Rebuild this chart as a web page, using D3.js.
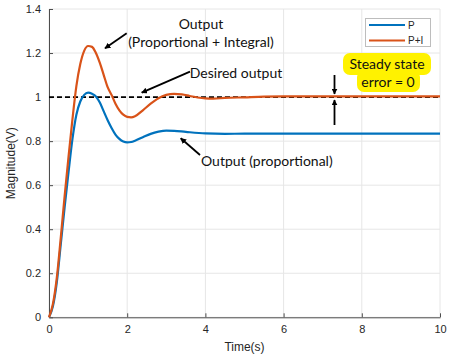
<!DOCTYPE html>
<html>
<head>
<meta charset="utf-8">
<script src="https://cdn.jsdelivr.net/npm/d3@7"></script>
<style>
html,body{margin:0;padding:0;background:#fff;}
svg{display:block;}
</style>
</head>
<body>
<svg id="chart" width="450" height="355"></svg>
<script>
// ---- data ----
const timeP = [0,0.1,0.2,0.3,0.4,0.5,0.6,0.7,0.8,0.9,1.0,1.1,1.2,1.3,1.4,1.5,1.6,1.7,1.8,1.9,2.0,2.1,2.2,2.4,2.6,2.8,3.0,3.2,3.5,4.0,4.5,5,6,7,8,9,10];
const valuesP = [0,0.05,0.16,0.33,0.50,0.66,0.81,0.92,0.98,1.01,1.02,1.015,1.003,0.975,0.935,0.895,0.86,0.83,0.81,0.798,0.794,0.796,0.802,0.818,0.833,0.843,0.848,0.847,0.842,0.835,0.833,0.834,0.834,0.834,0.834,0.834,0.834];
const timePI = [0,0.1,0.2,0.3,0.4,0.5,0.6,0.7,0.8,0.9,1.0,1.1,1.2,1.3,1.4,1.5,1.6,1.7,1.8,1.9,2.0,2.1,2.2,2.4,2.6,2.8,3.0,3.2,3.4,3.6,3.8,4.0,4.2,4.5,5.0,5.5,6,7,8,9,10];
const valuesPI = [0,0.06,0.18,0.36,0.55,0.73,0.90,1.05,1.15,1.21,1.232,1.228,1.2,1.155,1.10,1.045,1.01,0.97,0.94,0.92,0.91,0.908,0.913,0.94,0.97,0.995,1.01,1.015,1.012,1.005,0.998,0.994,0.993,0.996,0.999,1.002,1.003,1.003,1.003,1.003,1.003];
const desiredOutput = 1.0;
const xTicks = [0,2,4,6,8,10];
const yTicks = [0,0.2,0.4,0.6,0.8,1,1.2,1.4];
const seriesNames = ["P","P+I"];
const xLabel = "Time(s)";
const yLabel = "Magnitude(V)";

// ---- layout ----
const svg = d3.select("#chart");
const m = {left:49, right:440, top:9, bottom:317.3};
const x = d3.scaleLinear().domain([0,10]).range([m.left, m.right]);
const y = d3.scaleLinear().domain([0,1.4]).range([m.bottom, m.top]);
const colors = {"P":"#0072BD","P+I":"#D95319"};
const axisFont = "'Liberation Sans', Arial, sans-serif";
const annoFont = "Lato, 'Open Sans', sans-serif";

// grid
const grid = svg.append("g");
grid.selectAll("line.gx").data(xTicks).enter().append("line")
  .attr("x1", d=>x(d)).attr("x2", d=>x(d)).attr("y1", m.top).attr("y2", m.bottom)
  .attr("stroke","#e6e6e6").attr("stroke-width",1);
grid.selectAll("line.gy").data(yTicks).enter().append("line")
  .attr("x1", m.left).attr("x2", m.right).attr("y1", d=>y(d)).attr("y2", d=>y(d))
  .attr("stroke","#e6e6e6").attr("stroke-width",1);

// axes
const xAxis = d3.axisBottom(x).tickValues(xTicks).tickSizeInner(-4).tickSizeOuter(0).tickPadding(8).tickFormat(d3.format("~g"));
const yAxis = d3.axisLeft(y).tickValues(yTicks).tickSizeInner(-4).tickSizeOuter(0).tickPadding(8).tickFormat(d3.format("~g"));
const gx = svg.append("g").attr("transform",`translate(0,${m.bottom})`).call(xAxis);
const gy = svg.append("g").attr("transform",`translate(${m.left},0)`).call(yAxis);
[gx,gy].forEach(g=>{
  g.select(".domain").attr("stroke","#4d4d4d").attr("stroke-width",1);
  g.selectAll(".tick line").attr("stroke","#4d4d4d");
  g.selectAll(".tick text").attr("fill","#262626").style("font-family",axisFont).style("font-size","11px");
});
svg.append("text").attr("x",(m.left+m.right)/2).attr("y",351).attr("text-anchor","middle")
  .style("font-family",axisFont).style("font-size","12px").attr("fill","#262626").text(xLabel);
svg.append("text").attr("transform",`translate(15,${(m.top+m.bottom)/2}) rotate(-90)`).attr("text-anchor","middle")
  .style("font-family",axisFont).style("font-size","12px").attr("fill","#262626").text(yLabel);

// desired dashed line
svg.append("line").attr("x1",x(0)).attr("x2",x(10)).attr("y1",y(desiredOutput)).attr("y2",y(desiredOutput))
  .attr("stroke","#000").attr("stroke-width",1.6).attr("stroke-dasharray","5,3");

// series
const line = d3.line().x(d=>x(d[0])).y(d=>y(d[1])).curve(d3.curveMonotoneX);
const series = [
  {name:"P", pts: timeP.map((t,i)=>[t,valuesP[i]])},
  {name:"P+I", pts: timePI.map((t,i)=>[t,valuesPI[i]])}
];
series.forEach(s=>{
  svg.append("path").datum(s.pts).attr("d",line).attr("fill","none")
    .attr("stroke",colors[s.name]).attr("stroke-width",2.2).attr("stroke-linejoin","round");
});

// legend
const lg = svg.append("g");
lg.append("rect").attr("x",365.5).attr("y",18.5).attr("width",65).attr("height",28)
  .attr("fill","#fff").attr("stroke","#bdbdbd").attr("stroke-width",1);
seriesNames.forEach((n,i)=>{
  const yy = 25 + i*15.5;
  lg.append("line").attr("x1",369).attr("x2",405).attr("y1",yy).attr("y2",yy)
    .attr("stroke",colors[n]).attr("stroke-width",2.2);
  lg.append("text").attr("x",408).attr("y",yy+3.5).style("font-family",axisFont).style("font-size","10px")
    .attr("fill","#262626").text(n);
});

// arrow marker
const defs = svg.append("defs");
defs.append("marker").attr("id","ah").attr("viewBox","0 0 10 10").attr("refX",9).attr("refY",5)
  .attr("markerWidth",6).attr("markerHeight",6).attr("markerUnits","userSpaceOnUse").attr("orient","auto")
  .append("path").attr("d","M0,0 L10,5 L0,10 z").attr("fill","#000");
function arrow(x1,y1,x2,y2){
  svg.append("line").attr("x1",x1).attr("y1",y1).attr("x2",x2).attr("y2",y2)
    .attr("stroke","#000").attr("stroke-width",1.8).attr("marker-end","url(#ah)");
}
function label(tx,ty,t,anchor){
  svg.append("text").attr("x",tx).attr("y",ty).attr("text-anchor",anchor||"middle")
    .style("font-family",annoFont).style("font-size","14px").attr("fill","#111").text(t);
}

// annotations
label(201, 29, "Output");
label(201, 47, "(Proportional + Integral)");
arrow(126.7, 33.3, 105, 48.3);
label(236, 77.5, "Desired output");
arrow(190, 71.7, 141.7, 92.7);
label(201, 166, "Output (proportional)", "start");
arrow(200, 155, 180.7, 138.3);

// yellow box
const yb = svg.append("g");
yb.append("rect").attr("x",343).attr("y",53).attr("width",88).attr("height",22).attr("rx",7).attr("fill","#FFF200");
yb.append("rect").attr("x",357).attr("y",70).attr("width",63).attr("height",22).attr("rx",7).attr("fill","#FFF200");
yb.append("text").attr("x",387).attr("y",68.5).attr("text-anchor","middle").style("font-family",annoFont)
  .style("font-size","14px").attr("fill","#111").text("Steady state");
yb.append("text").attr("x",388).attr("y",86.5).attr("text-anchor","middle").style("font-family",annoFont)
  .style("font-size","14px").attr("fill","#111").text("error = 0");

// steady state arrows
arrow(334.5, 75, 334.5, 94);
arrow(334.5, 125, 334.5, 100);
</script>
</body>
</html>
